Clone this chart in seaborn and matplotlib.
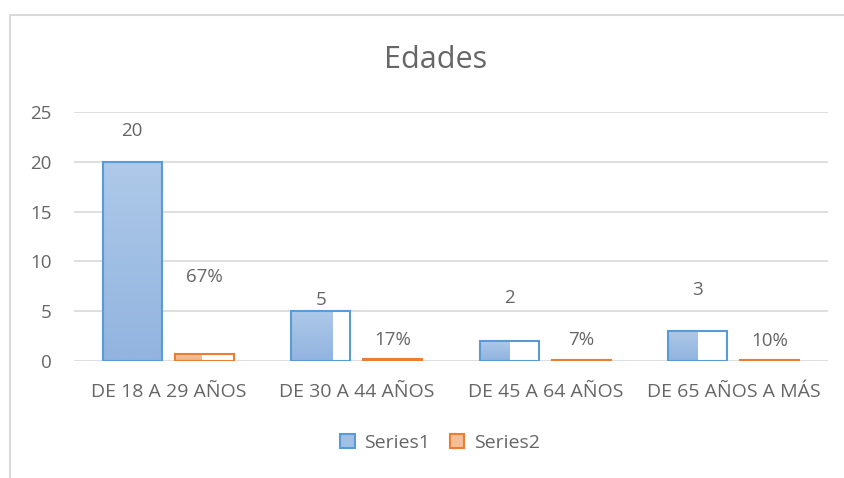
import numpy as np
import pandas as pd
import seaborn as sns
import matplotlib.pyplot as plt
from matplotlib.patches import Patch
from matplotlib.lines import Line2D
from matplotlib.colors import LinearSegmentedColormap

# datos
categorias = ['DE 18 A 29 AÑOS', 'DE 30 A 44 AÑOS', 'DE 45 A 64 AÑOS', 'DE 65 AÑOS A MÁS']
series1 = [20, 5, 2, 3]
series2 = [0.67, 0.17, 0.07, 0.10]
etiquetas1 = ['20', '5', '2', '3']
etiquetas2 = ['67%', '17%', '7%', '10%']

# estilo (desplazamiento de etiquetas en px, fraccion de relleno)
desp1 = [31, 11, 43, 41]
desp2 = [77, 19, 20, 19]
relleno1 = [1.0, 0.71, 0.5, 0.5]
relleno2 = [0.45, 1.0, 1.0, 1.0]

gris = '#666666'
fuente = ['Open Sans', 'DejaVu Sans']

df = pd.DataFrame({
    'cat': categorias * 2,
    'valor': series1 + series2,
    'serie': ['Series1'] * 4 + ['Series2'] * 4,
})

sns.set_style('white')
plt.rcParams['font.family'] = fuente

fig = plt.figure(figsize=(8.44, 4.78), dpi=100)
ax = fig.add_axes([74 / 844, (478 - 360.5) / 478, (828 - 74) / 844, 248 / 478])

sns.barplot(data=df, x='cat', y='valor', hue='serie', ax=ax,
            palette=['#5b9bd5', '#ed7d31'], width=0.764, gap=0.18,
            legend=False, errorbar=None)

gradientes = [
    LinearSegmentedColormap.from_list('azul', ['#92b4df', '#aec9e9']),
    LinearSegmentedColormap.from_list('naranja', ['#f4b183', '#f8cbad']),
]
bordes = ['#5b9bd5', '#ed7d31']
rellenos = [relleno1, relleno2]
grad = np.linspace(0, 1, 100).reshape(-1, 1)

for i, cont in enumerate(ax.containers):
    for j, bar in enumerate(cont):
        x0, w, h = bar.get_x(), bar.get_width(), bar.get_height()
        ax.imshow(grad, cmap=gradientes[i], origin='lower', aspect='auto',
                  extent=[x0, x0 + w * rellenos[i][j], 0, h], zorder=2)
        bar.set_facecolor('none')
        bar.set_edgecolor(bordes[i])
        bar.set_linewidth(1.5)
        bar.set_zorder(3)

etiquetas = [etiquetas1, etiquetas2]
despl = [desp1, desp2]
for i, cont in enumerate(ax.containers):
    for j, bar in enumerate(cont):
        ax.annotate(etiquetas[i][j],
                    (bar.get_x() + bar.get_width() / 2, bar.get_height()),
                    xytext=(0, despl[i][j]), textcoords='offset pixels',
                    ha='center', va='center', fontsize=13.5, color=gris)

ax.set_xlim(-0.5, 3.5)
ax.set_ylim(0, 25)
ax.set_yticks([0, 5, 10, 15, 20, 25])
ax.grid(axis='y', color='#d9d9d9', linewidth=1.2, zorder=0)
ax.set_axisbelow(True)
for s in ax.spines.values():
    s.set_visible(False)
ax.tick_params(axis='both', length=0, colors=gris, labelsize=13.5)
ax.tick_params(axis='y', pad=16)
ax.tick_params(axis='x', pad=16, labelsize=14)
ax.set_xlabel('')
ax.set_ylabel('')

fig.text(436 / 844, 1 - 60 / 478, 'Edades', ha='center', va='center',
         fontsize=22, color=gris)

handles = [
    Patch(facecolor='#a1bfe4', edgecolor='#5b9bd5', linewidth=1.5, label='Series1'),
    Patch(facecolor='#f6be98', edgecolor='#ed7d31', linewidth=1.5, label='Series2'),
]
fig.legend(handles=handles, loc='center', bbox_to_anchor=(440 / 844, 1 - 443 / 478),
           ncol=2, frameon=False, fontsize=14, labelcolor=gris,
           handlelength=0.75, handleheight=0.75, handletextpad=0.5, columnspacing=1.0)

# marco del grafico
fig.add_artist(Line2D([10 / 844, 10 / 844], [0, 1 - 15 / 478], color='#d9d9d9', lw=1.5))
fig.add_artist(Line2D([10 / 844, 1], [1 - 15 / 478, 1 - 15 / 478], color='#d9d9d9', lw=1.5))

fig.savefig('out.png', dpi=100)
